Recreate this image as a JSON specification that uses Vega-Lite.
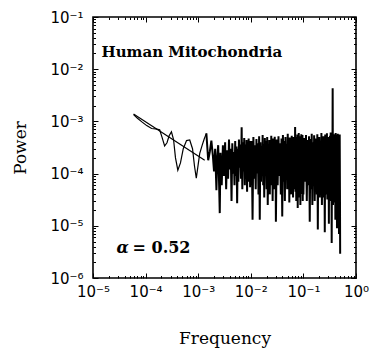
{
  "$schema": "https://vega.github.io/schema/vega-lite/v6.json",
  "width": 263,
  "height": 261,
  "autosize": {"type": "none"},
  "padding": {"left": 93, "top": 17, "right": 16, "bottom": 70},
  "background": "white",
  "config": {
    "view": {"stroke": "black", "strokeWidth": 1.6},
    "axis": {"domain": false, "grid": false, "tickColor": "black", "labelColor": "black", "titleColor": "black", "labelOverlap": false, "labelFlush": false, "labelBound": false}
  },
  "datasets": {
    "smooth": [
      {"f":5.9e-5,"p":1.35e-3},{"f":7.0e-5,"p":1.15e-3},{"f":8.5e-5,"p":9.8e-4},{"f":1.05e-4,"p":8.3e-4},{"f":1.3e-4,"p":7.3e-4},{"f":1.55e-4,"p":7.2e-4},{"f":1.85e-4,"p":6.9e-4},{"f":2.05e-4,"p":5.0e-4},{"f":2.3e-4,"p":3.4e-4},{"f":2.55e-4,"p":3.9e-4},{"f":2.8e-4,"p":5.3e-4},{"f":3.1e-4,"p":6.3e-4},{"f":3.4e-4,"p":4.5e-4},{"f":3.7e-4,"p":2.0e-4},{"f":4.1e-4,"p":1.16e-4},{"f":4.6e-4,"p":1.6e-4},{"f":5.2e-4,"p":3.0e-4},{"f":6.0e-4,"p":4.3e-4},{"f":6.9e-4,"p":4.4e-4},{"f":7.8e-4,"p":3.0e-4},{"f":8.5e-4,"p":1.4e-4},{"f":9.2e-4,"p":8.2e-5},{"f":1.0e-3,"p":1.5e-4},{"f":1.07e-3,"p":2.45e-4},{"f":1.2e-3,"p":3.6e-4},{"f":1.3e-3,"p":4.6e-4},{"f":1.43e-3,"p":5.9e-4}
    ],
    "noise": [
      {"f":1.43e-3,"p":5.9e-4},{"f":1.55e-3,"p":1.8e-4},{"f":1.66e-3,"p":2.6e-4},{"f":1.78e-3,"p":4.3e-4},{"f":1.9e-3,"p":2.2e-4},{"f":2.0e-3,"p":1.1e-4},{"f":2.1e-3,"p":3.0e-4},{"f":2.22e-3,"p":4.8e-5},{"f":2.3e-3,"p":2.0e-4},{"f":2.4e-3,"p":3.5e-4},{"f":2.5e-3,"p":6.0e-5},{"f":2.57e-3,"p":1.75e-5},
      {"f":0.00265,"p":25e-5},{"f":0.0028,"p":6e-5},{"f":0.00295,"p":35e-5},{"f":0.0031,"p":9e-5},{"f":0.00325,"p":40e-5},{"f":0.0034,"p":5e-5},{"f":0.00355,"p":28e-5},{"f":0.0037,"p":8e-5},{"f":0.00385,"p":45e-5},{"f":0.0040,"p":12e-5},{"f":0.00415,"p":30e-5},{"f":0.0043,"p":3e-5},{"f":0.00445,"p":38e-5},{"f":0.0046,"p":10e-5},{"f":0.00475,"p":26e-5},{"f":0.0049,"p":6e-5},{"f":0.00505,"p":42e-5},{"f":0.0052,"p":9e-5},{"f":0.00535,"p":33e-5},{"f":0.0055,"p":2.7e-5},{"f":0.00565,"p":30e-5},{"f":0.0058,"p":7e-5},{"f":0.00595,"p":45e-5},{"f":0.0061,"p":13e-5},{"f":0.0063,"p":36e-5},{"f":0.0065,"p":8e-5},{"f":0.0067,"p":77e-5},{"f":0.0069,"p":5e-5},{"f":0.0071,"p":40e-5},{"f":0.0073,"p":11e-5},{"f":0.0075,"p":48e-5},{"f":0.0077,"p":6e-5},{"f":0.0079,"p":36e-5},{"f":0.0081,"p":9e-5},{"f":0.0083,"p":44e-5},{"f":0.0085,"p":4.5e-5},{"f":0.0087,"p":38e-5},{"f":0.0089,"p":10e-5},{"f":0.0091,"p":47e-5},{"f":0.0093,"p":7e-5},{"f":0.0095,"p":35e-5},{"f":0.0097,"p":5.5e-5},{"f":0.00985,"p":42e-5},
      {"f":0.0100,"p":6e-5},{"f":0.0104,"p":42e-5},{"f":0.0108,"p":1.3e-5},{"f":0.0112,"p":50e-5},{"f":0.0116,"p":8e-5},{"f":0.0120,"p":35e-5},{"f":0.0124,"p":5e-5},{"f":0.0128,"p":46e-5},{"f":0.0132,"p":10e-5},{"f":0.0136,"p":38e-5},{"f":0.0140,"p":4e-5},{"f":0.0144,"p":52e-5},{"f":0.0148,"p":1.3e-5},{"f":0.0152,"p":40e-5},{"f":0.0156,"p":7e-5},{"f":0.0160,"p":33e-5},{"f":0.0164,"p":11e-5},{"f":0.0168,"p":55e-5},{"f":0.0172,"p":6e-5},{"f":0.0176,"p":37e-5},{"f":0.0180,"p":3.5e-5},{"f":0.0185,"p":48e-5},{"f":0.0190,"p":9e-5},{"f":0.0195,"p":42e-5},{"f":0.0200,"p":5e-5},{"f":0.0205,"p":50e-5},{"f":0.0210,"p":2.5e-5},{"f":0.0215,"p":36e-5},{"f":0.0220,"p":8e-5},{"f":0.0225,"p":44e-5},{"f":0.0230,"p":4e-5},{"f":0.0235,"p":39e-5},{"f":0.0240,"p":12e-5},{"f":0.0245,"p":53e-5},{"f":0.0250,"p":6e-5},{"f":0.0255,"p":41e-5},{"f":0.0260,"p":3e-5},{"f":0.0265,"p":47e-5},{"f":0.0270,"p":9e-5},{"f":0.0275,"p":38e-5},{"f":0.0280,"p":5e-5},{"f":0.0285,"p":51e-5},{"f":0.0290,"p":7e-5},{"f":0.0295,"p":43e-5},
      {"f":0.0300,"p":1.2e-5},{"f":0.0312,"p":45e-5},{"f":0.0324,"p":6e-5},{"f":0.0336,"p":52e-5},{"f":0.0348,"p":9e-5},{"f":0.0360,"p":38e-5},{"f":0.0372,"p":4e-5},{"f":0.0384,"p":47e-5},{"f":0.0396,"p":1.5e-5},{"f":0.0408,"p":55e-5},{"f":0.0420,"p":7e-5},{"f":0.0432,"p":42e-5},{"f":0.0444,"p":3e-5},{"f":0.0456,"p":50e-5},{"f":0.0468,"p":10e-5},{"f":0.0480,"p":36e-5},{"f":0.0492,"p":5e-5},{"f":0.0504,"p":58e-5},{"f":0.0516,"p":8e-5},{"f":0.0528,"p":44e-5},{"f":0.0540,"p":2.8e-5},{"f":0.0552,"p":49e-5},{"f":0.0564,"p":6e-5},{"f":0.0576,"p":40e-5},{"f":0.0588,"p":4e-5},{"f":0.0600,"p":53e-5},{"f":0.0612,"p":9e-5},{"f":0.0624,"p":45e-5},{"f":0.0636,"p":3.5e-5},{"f":0.0648,"p":50e-5},{"f":0.0660,"p":7e-5},{"f":0.0672,"p":41e-5},{"f":0.0684,"p":5e-5},{"f":0.0696,"p":78e-5},{"f":0.0708,"p":4.5e-5},{"f":0.0720,"p":45e-5},{"f":0.0732,"p":3e-5},{"f":0.0744,"p":50e-5},{"f":0.0756,"p":8e-5},{"f":0.0768,"p":56e-5},{"f":0.0780,"p":2.2e-5},{"f":0.0792,"p":41e-5},{"f":0.0804,"p":6e-5},{"f":0.0816,"p":60e-5},{"f":0.0828,"p":3.5e-5},{"f":0.0840,"p":47e-5},{"f":0.0852,"p":10e-5},{"f":0.0864,"p":52e-5},{"f":0.0876,"p":2.5e-5},{"f":0.0888,"p":44e-5},{"f":0.0900,"p":7e-5},{"f":0.0912,"p":57e-5},{"f":0.0924,"p":4e-5},{"f":0.0936,"p":39e-5},{"f":0.0948,"p":6e-5},{"f":0.0960,"p":55e-5},{"f":0.0972,"p":3e-5},{"f":0.0984,"p":48e-5},
      {"f":0.100,"p":4e-5},{"f":0.104,"p":48e-5},{"f":0.108,"p":7e-5},{"f":0.112,"p":55e-5},{"f":0.116,"p":3e-5},{"f":0.120,"p":44e-5},{"f":0.124,"p":6e-5},{"f":0.128,"p":52e-5},{"f":0.132,"p":1.2e-5},{"f":0.136,"p":46e-5},{"f":0.140,"p":5e-5},{"f":0.144,"p":58e-5},{"f":0.148,"p":2.5e-5},{"f":0.152,"p":40e-5},{"f":0.156,"p":8e-5},{"f":0.160,"p":54e-5},{"f":0.164,"p":3e-5},{"f":0.168,"p":47e-5},{"f":0.172,"p":6e-5},{"f":0.176,"p":42e-5},{"f":0.180,"p":4e-5},{"f":0.184,"p":57e-5},{"f":0.188,"p":0.85e-5},{"f":0.192,"p":45e-5},{"f":0.196,"p":5e-5},{"f":0.200,"p":50e-5},
      {"f":0.205,"p":3.5e-5},{"f":0.210,"p":43e-5},{"f":0.215,"p":6e-5},{"f":0.220,"p":60e-5},{"f":0.225,"p":2.5e-5},{"f":0.230,"p":45e-5},{"f":0.235,"p":5e-5},{"f":0.240,"p":52e-5},{"f":0.245,"p":3.5e-5},{"f":0.250,"p":48e-5},{"f":0.255,"p":0.75e-5},{"f":0.260,"p":56e-5},{"f":0.265,"p":4e-5},{"f":0.270,"p":42e-5},{"f":0.275,"p":7e-5},{"f":0.280,"p":59e-5},{"f":0.285,"p":3.2e-5},{"f":0.290,"p":46e-5},{"f":0.295,"p":6e-5},{"f":0.300,"p":50e-5},{"f":0.305,"p":1.1e-5},{"f":0.310,"p":46e-5},{"f":0.315,"p":4.5e-5},{"f":0.320,"p":53e-5},{"f":0.325,"p":3e-5},{"f":0.330,"p":61e-5},{"f":0.335,"p":3.8e-5},{"f":0.340,"p":44e-5},{"f":0.345,"p":0.47e-5},{"f":0.350,"p":53e-5},{"f":0.355,"p":4e-5},{"f":0.360,"p":430e-5},{"f":0.365,"p":2.5e-5},{"f":0.370,"p":49e-5},{"f":0.375,"p":6e-5},{"f":0.380,"p":57e-5},{"f":0.385,"p":2.8e-5},{"f":0.390,"p":45e-5},{"f":0.395,"p":5e-5},{"f":0.400,"p":52e-5},{"f":0.405,"p":1.3e-5},{"f":0.410,"p":60e-5},{"f":0.415,"p":3e-5},{"f":0.420,"p":47e-5},{"f":0.425,"p":7e-5},{"f":0.430,"p":55e-5},{"f":0.435,"p":0.9e-5},{"f":0.440,"p":50e-5},{"f":0.445,"p":2.6e-5},{"f":0.450,"p":58e-5},{"f":0.455,"p":4.5e-5},{"f":0.460,"p":43e-5},{"f":0.465,"p":3.3e-5},{"f":0.470,"p":54e-5},{"f":0.475,"p":0.7e-5},{"f":0.480,"p":48e-5},{"f":0.485,"p":4e-5},{"f":0.490,"p":56e-5},{"f":0.495,"p":5e-5},{"f":0.500,"p":0.29e-5}
    ],
    "fit": [{"f":5.9e-5,"p":1.38e-3},{"f":1.33e-3,"p":1.8e-4}],
    "title": [{"f":1.45e-5,"p":0.0168,"t":"Human Mitochondria"}],
    "alpha": [{"f":2.8e-5,"p":2.96e-6,"t":"α"}],
    "alphaval": [{"f":5.65e-5,"p":2.96e-6,"t":"= 0.52"}]
  },
  "layer": [
    {
      "data": {"name": "smooth"},
      "mark": {"type": "line", "color": "black", "strokeWidth": 1.2},
      "encoding": {
        "x": {"field": "f", "type": "quantitative",
          "scale": {"type": "log", "domain": [1e-5, 1], "nice": false},
          "axis": {"orient": "bottom", "title": "Frequency",
            "values": [1e-5,2e-5,3e-5,4e-5,5e-5,6e-5,7e-5,8e-5,9e-5,1e-4,2e-4,3e-4,4e-4,5e-4,6e-4,7e-4,8e-4,9e-4,1e-3,2e-3,3e-3,4e-3,5e-3,6e-3,7e-3,8e-3,9e-3,1e-2,2e-2,3e-2,4e-2,5e-2,6e-2,7e-2,8e-2,9e-2,0.1,0.2,0.3,0.4,0.5,0.6,0.7,0.8,0.9,1],
            "labelExpr": "abs(log(datum.value)/LN10 - round(log(datum.value)/LN10)) < 1e-6 ? '10' + (round(log(datum.value)/LN10) < 0 ? '⁻' : '') + ['⁰','¹','²','³','⁴','⁵','⁶'][abs(round(log(datum.value)/LN10))] : ''",
            "tickSize": {"condition": {"test": "abs(log(datum.value)/LN10 - round(log(datum.value)/LN10)) < 1e-6", "value": -5}, "value": -2.5},
            "labelFont": "DejaVu Sans", "labelFontSize": 15, "labelPadding": 11,
            "titleFont": "DejaVu Serif", "titleFontSize": 17, "titleFontWeight": "normal", "titlePadding": 29}
        },
        "y": {"field": "p", "type": "quantitative",
          "scale": {"type": "log", "domain": [1e-6, 0.1], "nice": false},
          "axis": {"orient": "left", "title": "Power",
            "values": [1e-6,2e-6,3e-6,4e-6,5e-6,6e-6,7e-6,8e-6,9e-6,1e-5,2e-5,3e-5,4e-5,5e-5,6e-5,7e-5,8e-5,9e-5,1e-4,2e-4,3e-4,4e-4,5e-4,6e-4,7e-4,8e-4,9e-4,1e-3,2e-3,3e-3,4e-3,5e-3,6e-3,7e-3,8e-3,9e-3,1e-2,2e-2,3e-2,4e-2,5e-2,6e-2,7e-2,8e-2,9e-2,0.1],
            "labelExpr": "abs(log(datum.value)/LN10 - round(log(datum.value)/LN10)) < 1e-6 ? '10' + (round(log(datum.value)/LN10) < 0 ? '⁻' : '') + ['⁰','¹','²','³','⁴','⁵','⁶'][abs(round(log(datum.value)/LN10))] : ''",
            "tickSize": {"condition": {"test": "abs(log(datum.value)/LN10 - round(log(datum.value)/LN10)) < 1e-6", "value": -5}, "value": -2.5},
            "labelFont": "DejaVu Sans", "labelFontSize": 15, "labelPadding": 15,
            "titleFont": "DejaVu Serif", "titleFontSize": 17, "titleFontWeight": "normal", "titlePadding": 20}
        }
      }
    },
    {
      "data": {"name": "noise"},
      "mark": {"type": "line", "color": "black", "strokeWidth": 2},
      "encoding": {
        "x": {"field": "f", "type": "quantitative",
          "scale": {"type": "log", "domain": [1e-5, 1], "nice": false},
          "axis": {"orient": "top", "title": null, "labels": false,
            "values": [1e-5,2e-5,3e-5,4e-5,5e-5,6e-5,7e-5,8e-5,9e-5,1e-4,2e-4,3e-4,4e-4,5e-4,6e-4,7e-4,8e-4,9e-4,1e-3,2e-3,3e-3,4e-3,5e-3,6e-3,7e-3,8e-3,9e-3,1e-2,2e-2,3e-2,4e-2,5e-2,6e-2,7e-2,8e-2,9e-2,0.1,0.2,0.3,0.4,0.5,0.6,0.7,0.8,0.9,1],
            "tickSize": {"condition": {"test": "abs(log(datum.value)/LN10 - round(log(datum.value)/LN10)) < 1e-6", "value": -5}, "value": -2.5}}
        },
        "y": {"field": "p", "type": "quantitative",
          "scale": {"type": "log", "domain": [1e-6, 0.1], "nice": false},
          "axis": {"orient": "right", "title": null, "labels": false,
            "values": [1e-6,2e-6,3e-6,4e-6,5e-6,6e-6,7e-6,8e-6,9e-6,1e-5,2e-5,3e-5,4e-5,5e-5,6e-5,7e-5,8e-5,9e-5,1e-4,2e-4,3e-4,4e-4,5e-4,6e-4,7e-4,8e-4,9e-4,1e-3,2e-3,3e-3,4e-3,5e-3,6e-3,7e-3,8e-3,9e-3,1e-2,2e-2,3e-2,4e-2,5e-2,6e-2,7e-2,8e-2,9e-2,0.1],
            "tickSize": {"condition": {"test": "abs(log(datum.value)/LN10 - round(log(datum.value)/LN10)) < 1e-6", "value": -5}, "value": -2.5}}
        }
      }
    },
    {
      "data": {"name": "fit"},
      "mark": {"type": "line", "color": "black", "strokeWidth": 1.2},
      "encoding": {
        "x": {"field": "f", "type": "quantitative", "scale": {"type": "log", "domain": [1e-5, 1], "nice": false}, "axis": null},
        "y": {"field": "p", "type": "quantitative", "scale": {"type": "log", "domain": [1e-6, 0.1], "nice": false}, "axis": null}
      }
    },
    {
      "data": {"name": "title"},
      "mark": {"type": "text", "align": "left", "baseline": "alphabetic", "font": "DejaVu Serif", "fontSize": 15, "fontWeight": "bold", "color": "black"},
      "encoding": {
        "x": {"field": "f", "type": "quantitative", "scale": {"type": "log", "domain": [1e-5, 1], "nice": false}, "axis": null},
        "y": {"field": "p", "type": "quantitative", "scale": {"type": "log", "domain": [1e-6, 0.1], "nice": false}, "axis": null},
        "text": {"field": "t"}
      }
    },
    {
      "data": {"name": "alpha"},
      "mark": {"type": "text", "align": "left", "baseline": "alphabetic", "font": "DejaVu Serif", "fontSize": 16, "fontStyle": "italic", "fontWeight": "bold", "color": "black"},
      "encoding": {
        "x": {"field": "f", "type": "quantitative", "scale": {"type": "log", "domain": [1e-5, 1], "nice": false}, "axis": null},
        "y": {"field": "p", "type": "quantitative", "scale": {"type": "log", "domain": [1e-6, 0.1], "nice": false}, "axis": null},
        "text": {"field": "t"}
      }
    },
    {
      "data": {"name": "alphaval"},
      "mark": {"type": "text", "align": "left", "baseline": "alphabetic", "font": "DejaVu Serif", "fontSize": 16, "fontWeight": "bold", "color": "black"},
      "encoding": {
        "x": {"field": "f", "type": "quantitative", "scale": {"type": "log", "domain": [1e-5, 1], "nice": false}, "axis": null},
        "y": {"field": "p", "type": "quantitative", "scale": {"type": "log", "domain": [1e-6, 0.1], "nice": false}, "axis": null},
        "text": {"field": "t"}
      }
    }
  ],
  "resolve": {"axis": {"x": "independent", "y": "independent"}}
}
